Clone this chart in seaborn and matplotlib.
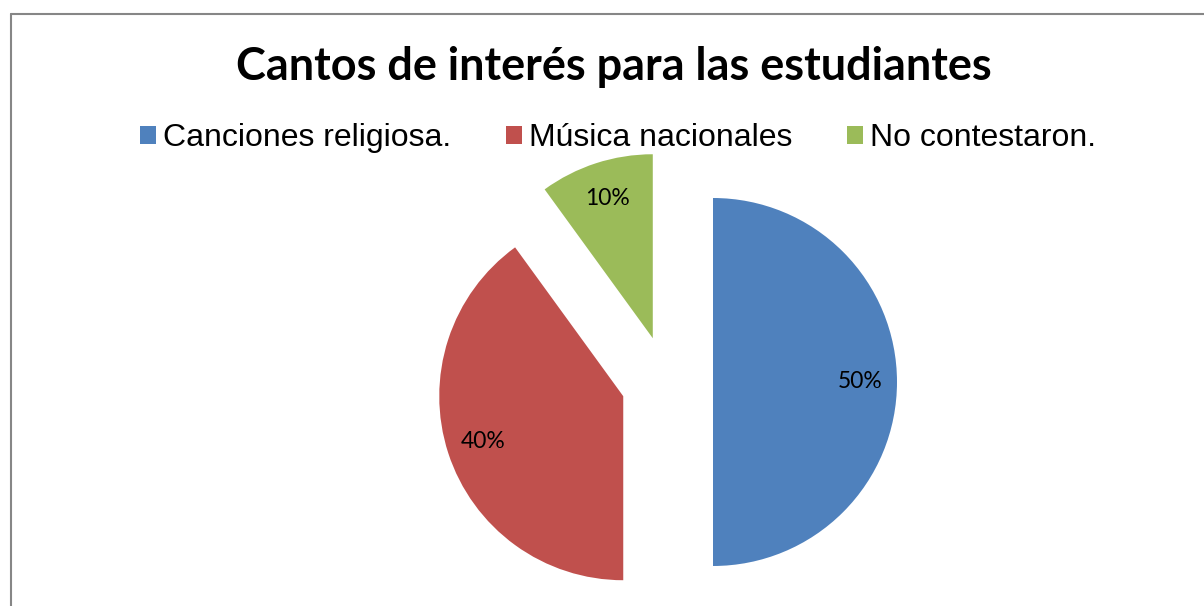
import matplotlib
matplotlib.use("Agg")
import matplotlib.pyplot as plt
import seaborn as sns
from matplotlib.lines import Line2D
from matplotlib.patches import Patch

categories = ["Canciones religiosa.", "Música nacionales", "No contestaron."]
values = [50, 40, 10]
colors = ["#4F81BD", "#C0504D", "#9BBB59"]
title = "Cantos de interés para las estudiantes"

sns.set_theme(style="white")
plt.rcParams["font.family"] = ["Liberation Sans", "DejaVu Sans"]
plt.rcParams["text.color"] = "black"

W, H = 1204, 606
fig = plt.figure(figsize=(W / 100, H / 100), dpi=100)
ax = fig.add_axes([0, 0, 1, 1])

# pie centre (px) and radius (px)
cx, cy, r = 667, 382, 184
wedges, texts, autotexts = ax.pie(
    values, colors=colors, startangle=90, counterclock=False,
    explode=[0.25, 0.25, 0.25], autopct="%d%%", pctdistance=0.8,
    textprops=dict(family="Lato", fontsize=16.5, color="black"),
    wedgeprops=dict(linewidth=0),
)
ax.set_aspect("auto")
ax.set_xlim(-cx / r, (W - cx) / r)
ax.set_ylim(-(H - cy) / r, cy / r)
ax.axis("off")

fig.text(614 / W, 1 - 67 / H, title, ha="center", va="center", color="black",
         family="Lato", fontweight="bold", fontsize=32.4)

handles = [Patch(facecolor=c, edgecolor="none") for c in colors]
fig.legend(handles, categories, loc="center", bbox_to_anchor=(618 / W, 1 - 138 / H),
           ncol=3, frameon=False, fontsize=23, handlelength=0.5, handleheight=0.5,
           handletextpad=0.22, columnspacing=1.7, labelcolor="black")

# outer chart border (partially cropped)
fig.add_artist(Line2D([11 / W, 11 / W], [0, 1 - 14 / H], color="#868686", lw=1.5,
                      transform=fig.transFigure))
fig.add_artist(Line2D([11 / W, 1], [1 - 14 / H, 1 - 14 / H], color="#868686", lw=1.5,
                      transform=fig.transFigure))

fig.savefig("out.png", dpi=100)
